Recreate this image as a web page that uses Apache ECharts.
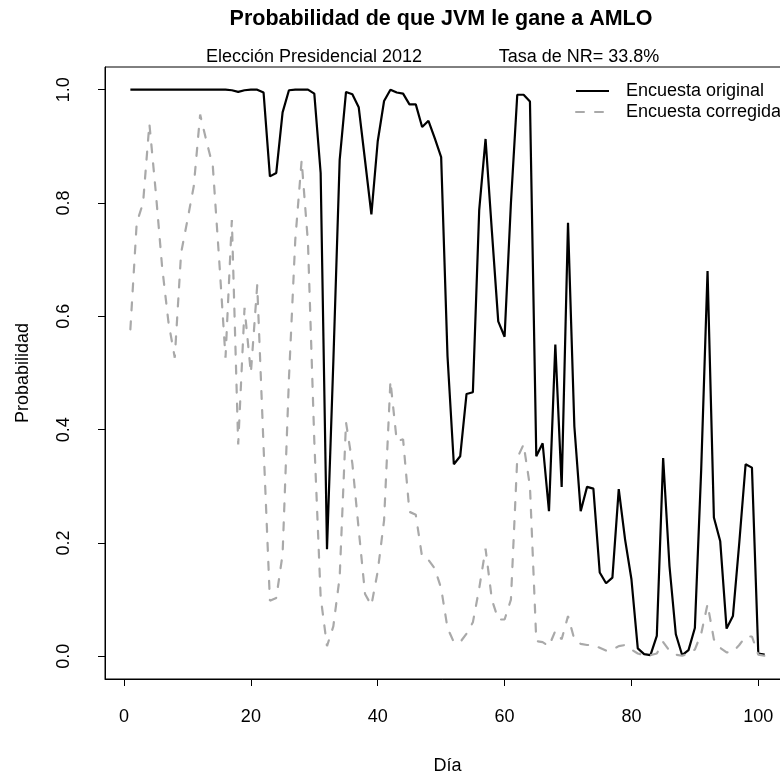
<!DOCTYPE html>
<html>
<head>
<meta charset="utf-8">
<script src="https://cdn.jsdelivr.net/npm/echarts@6/dist/echarts.min.js"></script>
<style>html,body{margin:0;padding:0;background:#fff;}#c{width:780px;height:773px;}</style>
</head>
<body>
<div id="c"></div>
<script>
// ---- data ----
const days = Array.from({length: 101}, (_, i) => i + 1);
const original = [
  1.0, 1.0, 1.0, 1.0, 1.0, 1.0, 1.0, 1.0, 1.0, 1.0,
  1.0, 1.0, 1.0, 1.0, 1.0, 1.0, 0.999, 0.996, 0.999, 1.0,
  1.0, 0.995, 0.847, 0.853, 0.96, 0.999, 1.0, 1.0, 1.0, 0.993,
  0.853, 0.189, 0.52, 0.876, 0.996, 0.992, 0.969, 0.875, 0.78, 0.909,
  0.98, 1.0, 0.995, 0.993, 0.974, 0.974, 0.934, 0.945, 0.914, 0.881,
  0.53, 0.339, 0.353, 0.463, 0.466, 0.788, 0.913, 0.75, 0.591, 0.564,
  0.80, 0.991, 0.991, 0.979, 0.353, 0.376, 0.256, 0.55, 0.299, 0.765,
  0.406, 0.256, 0.299, 0.296, 0.148, 0.129, 0.139, 0.295, 0.206, 0.136,
  0.014, 0.004, 0.002, 0.036, 0.35, 0.159, 0.039, 0.002, 0.011, 0.05,
  0.33, 0.68, 0.245, 0.203, 0.049, 0.071, 0.2, 0.339, 0.333, 0.005,
  0.003
];
const corregida = [
  0.577, 0.765, 0.80, 0.94, 0.82, 0.688, 0.59, 0.527, 0.712, 0.77,
  0.83, 0.956, 0.909, 0.865, 0.70, 0.527, 0.77, 0.374, 0.615, 0.50,
  0.655, 0.37, 0.098, 0.103, 0.18, 0.49, 0.735, 0.875, 0.73, 0.38,
  0.105, 0.018, 0.053, 0.14, 0.413, 0.34, 0.224, 0.11, 0.09, 0.15,
  0.24, 0.486, 0.38, 0.383, 0.255, 0.25, 0.175, 0.17, 0.155, 0.12,
  0.05, 0.025, 0.025, 0.04, 0.06, 0.12, 0.19, 0.10, 0.065, 0.065,
  0.10, 0.35, 0.374, 0.30, 0.027, 0.025, 0.018, 0.045, 0.03, 0.071,
  0.03, 0.022, 0.02, 0.02, 0.015, 0.01, 0.012, 0.018, 0.02, 0.012,
  0.005, 0.002, 0.002, 0.005, 0.025, 0.01, 0.003, 0.001, 0.005, 0.012,
  0.04, 0.092, 0.03, 0.015, 0.007, 0.008, 0.02, 0.035, 0.035, 0.003,
  0.001
];
const xTicks = [0, 20, 40, 60, 80, 100];
const yTicks = [0, 0.2, 0.4, 0.6, 0.8, 1.0];
const seriesNames = ['Encuesta original', 'Encuesta corregida'];
const titleText = 'Probabilidad de que JVM le gane a AMLO';
const subLeft = 'Elección Presidencial 2012';
const subRight = 'Tasa de NR= 33.8%';

// ---- chart ----
const FONT = 'Liberation Sans, Arial, Helvetica, sans-serif';
const chart = echarts.init(document.getElementById('c'), null, {renderer: 'canvas'});
const pairs = (ys) => days.map((d, i) => [d, ys[i]]);
const txt = {fontFamily: FONT, color: '#000', fontSize: 18};

chart.setOption({
  animation: false,
  backgroundColor: '#fff',
  title: [
    {text: titleText, left: 441, top: 8, textAlign: 'center', padding: 0,
     textStyle: Object.assign({}, txt, {fontSize: 21.5, fontWeight: 'bold'})},
    {text: subLeft, left: 314, top: 48, textAlign: 'center', padding: 0,
     textStyle: Object.assign({}, txt, {fontWeight: 'normal'})},
    {text: subRight, left: 579, top: 48, textAlign: 'center', padding: 0,
     textStyle: Object.assign({}, txt, {fontWeight: 'normal'})}
  ],
  legend: {
    orient: 'vertical', left: 575, top: 82, padding: 0,
    itemWidth: 33, itemHeight: 14, itemGap: 3,
    itemStyle: {opacity: 0},
    textStyle: Object.assign({}, txt, {padding: [0, 0, 0, 12], lineHeight: 14}),
    data: seriesNames
  },
  grid: {left: 105, top: 67, width: 685, height: 612, show: true,
         borderColor: '#000', borderWidth: 1, containLabel: false, outerBoundsMode: 'none'},
  xAxis: {
    type: 'value', min: -3, max: 105,
    name: 'Día', nameLocation: 'middle', nameGap: 78, nameTextStyle: txt,
    axisLine: {show: true, onZero: false, lineStyle: {color: '#000', width: 1}},
    axisTick: {show: true, length: 7, customValues: xTicks, lineStyle: {color: '#000'}},
    axisLabel: {customValues: xTicks, margin: 29, fontFamily: FONT, fontSize: 18, color: '#000'},
    splitLine: {show: false}
  },
  yAxis: {
    type: 'value', min: -0.04, max: 1.04,
    name: 'Probabilidad', nameLocation: 'middle', nameGap: 73, nameTextStyle: txt,
    axisLine: {show: true, onZero: false, lineStyle: {color: '#000', width: 1}},
    axisTick: {show: true, length: 7, customValues: yTicks, lineStyle: {color: '#000'}},
    axisLabel: {customValues: yTicks, rotate: 90, margin: 32, fontFamily: FONT, fontSize: 18, color: '#000',
                formatter: (v) => v.toFixed(1)},
    splitLine: {show: false}
  },
  series: [
    {name: seriesNames[0], type: 'line', data: pairs(original), symbol: 'none',
     lineStyle: {color: '#000', width: 2.2}, itemStyle: {color: '#000'}},
    {name: seriesNames[1], type: 'line', data: pairs(corregida), symbol: 'none',
     lineStyle: {color: '#a9a9a9', width: 2.2, type: [8, 11], cap: 'round'}, itemStyle: {color: '#a9a9a9'}}
  ]
});
</script>
</body>
</html>
